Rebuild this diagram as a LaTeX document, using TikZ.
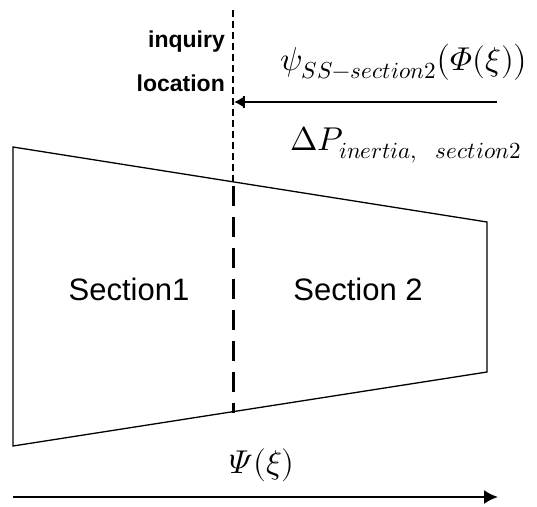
\documentclass[tikz,border=0pt]{standalone}
\usepackage{fontspec}
\usepackage[math-style=ISO]{unicode-math}
\setmainfont{Liberation Sans}
\setmathfont{Latin Modern Math}
\usetikzlibrary{arrows.meta}
\tikzset{
  lab/.style={font=\fontsize{31}{34}\selectfont, inner sep=0pt},
  blab/.style={font=\fontsize{23}{25}\selectfont\bfseries, inner sep=0pt, anchor=east},
  mlab/.style={font=\fontsize{33}{36}\selectfont, inner sep=0pt},
  edge/.style={line width=1.3pt},
}
\begin{document}
\begin{tikzpicture}[x=1pt,y=-1pt]
\useasboundingbox (0,0) rectangle (537,506);
% trapezoid
\coordinate (tl) at (13,147);
\coordinate (tr) at (487,222);
\coordinate (br) at (487,372);
\coordinate (bl) at (13,446);
\draw[edge, line join=miter] (tl) -- (tr) -- (br) -- (bl) -- cycle;
% inquiry line
\coordinate (qtop) at (233,10);
\coordinate (qmid) at (233,182);
\coordinate (qbot) at (233,413);
\draw[line width=1.2pt, dash pattern=on 7pt off 4pt] (qtop) -- (qmid);
\draw[line width=3pt, dash pattern=on 20pt off 11pt, dash phase=-4pt] (qmid) -- (qbot);
\node[blab] (inq) at (225,42) {inquiry};
\node[blab] (loc) at (225,83) {location};
% arrow
\coordinate (astart) at (497,102);
\coordinate (aend) at (234,102);
\draw[line width=1.8pt, -{Latex[length=9pt,width=10pt]}] (astart) -- (aend);
\coordinate (b1) at (244,96);
\coordinate (b2) at (244,108);
\draw[line width=1.8pt] (b1) -- (b2);
\node[mlab] (psi) at (404,62) {$\psi_{SS-section2}\bigl(\Phi(\xi)\bigr)$};
\node[mlab] (dp) at (406,145) {$\upDelta P_{inertia,\ \ section2}$};
% sections
\node[lab] (s1) at (129,289) {Section1};
\node[lab] (s2) at (358,289) {Section 2};
% bottom arrow
\node[mlab] (Psi) at (262,465) {$\Psi(\xi)$};
\coordinate (p1) at (13,497);
\coordinate (p2) at (498,497);
\draw[line width=2pt, -{Latex[length=14pt,width=14pt]}] (p1) -- (p2);
\end{tikzpicture}
\end{document}
